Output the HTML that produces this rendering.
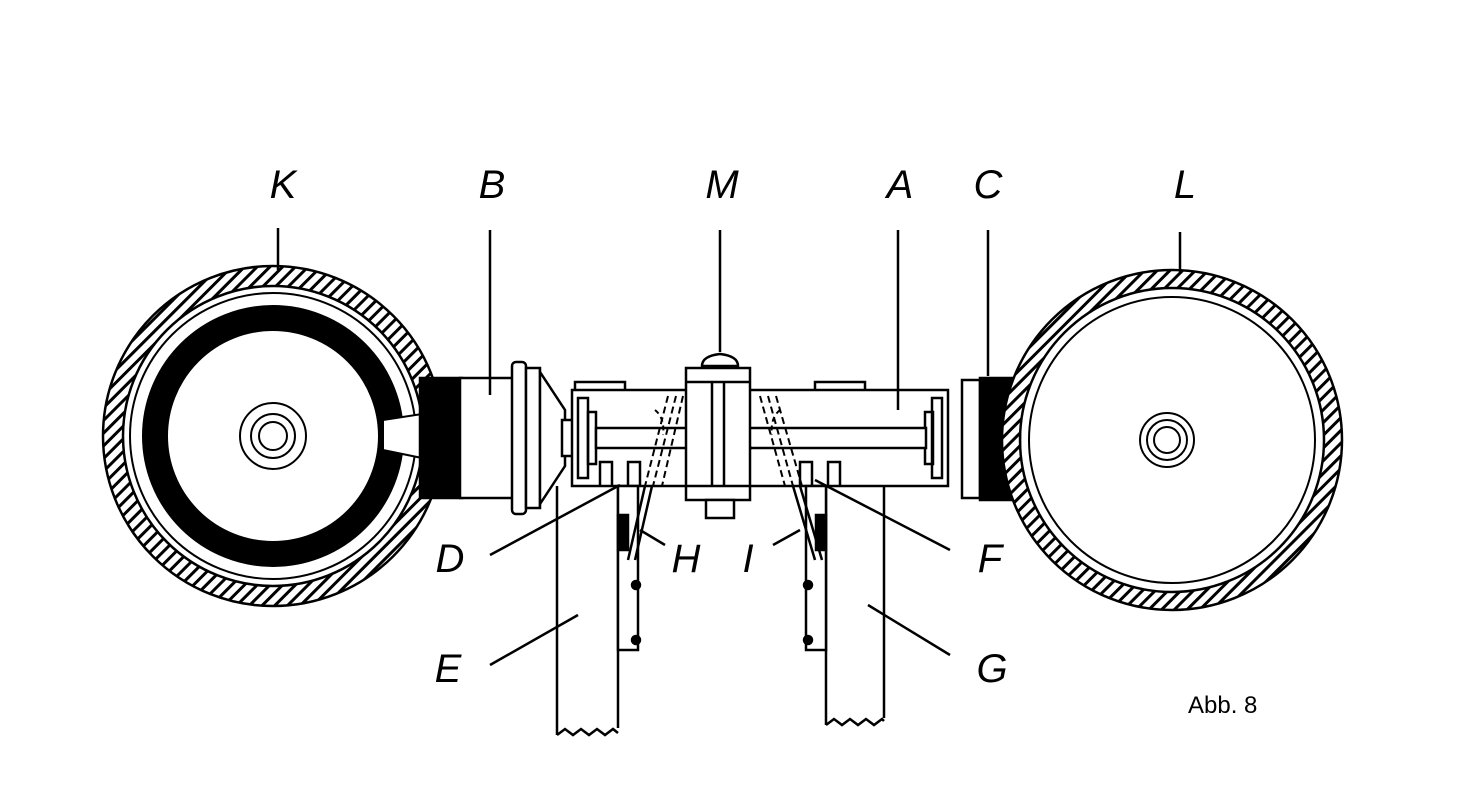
<!DOCTYPE html>
<html><head><style>body{margin:0;background:#fff}svg{display:block}</style></head><body>
<svg width="1484" height="812" viewBox="0 0 1484 812" xmlns="http://www.w3.org/2000/svg">
<defs>
<pattern id="h" width="9" height="9" patternUnits="userSpaceOnUse" patternTransform="rotate(-45)">
<rect width="9" height="9" fill="#fff"/><rect width="9" height="3" fill="#000"/></pattern>
</defs>
<g stroke="#000" stroke-width="2.5" fill="none">
<circle cx="273" cy="436" r="160" stroke="url(#h)" stroke-width="20"/>
<circle cx="273" cy="436" r="170"/>
<circle cx="273" cy="436" r="150"/>
<circle cx="273" cy="436" r="143" stroke-width="2"/>
<circle cx="273" cy="436" r="118" stroke="#000" stroke-width="26"/>
<circle cx="273" cy="436" r="33" stroke-width="2"/>
<circle cx="273" cy="436" r="22" stroke-width="2"/>
<circle cx="273" cy="436" r="14" stroke-width="2"/>
<polygon points="383,420 422,414 422,458 383,450" fill="#fff" stroke-width="2"/>
<rect x="420" y="378" width="42" height="120" fill="#000"/>
<rect x="460" y="378" width="55" height="120" fill="#fff"/>
<rect x="512" y="362" width="14" height="152" rx="4" fill="#fff"/>
<rect x="526" y="368" width="14" height="140" fill="#fff"/>
<polygon points="540,372 565,410 565,466 540,504" fill="#fff"/>
<rect x="562" y="420" width="12" height="36" fill="#fff"/>
<rect x="575" y="382" width="50" height="10" fill="#fff"/>
<rect x="815" y="382" width="50" height="10" fill="#fff"/>
<rect x="572" y="390" width="376" height="96" fill="#fff"/>
<rect x="578" y="398" width="10" height="80"/>
<rect x="932" y="398" width="10" height="80"/>
<rect x="588" y="412" width="8" height="52"/>
<rect x="925" y="412" width="8" height="52"/>
<rect x="596" y="428" width="330" height="20" fill="#fff"/>
<path d="M600 486V462H612V486M628 486V462H640V486M800 486V462H812V486M828 486V462H840V486"/>
<path d="M688 448H700V480M752 448H740V480" stroke-dasharray="8,5"/>
<path d="M668 396L645 486M676 396L653 486M683 396L662 486M760 396L785 486M768 396L793 486M776 396L802 486" stroke-dasharray="7,4" stroke-width="2"/>
<path d="M655 410q10 8 8 25M780 410q-10 8 -8 25" stroke-dasharray="5,4" stroke-width="2"/>
<rect x="686" y="368" width="64" height="132" fill="#fff"/>
<path d="M686 382H750M686 486H750M712 382V486M724 382V486"/>
<path d="M702 366q0-10 18-12q18 2 18 12z" fill="#fff"/>
<line x1="720" y1="230" x2="720" y2="352"/>
<rect x="706" y="500" width="28" height="18" fill="#fff"/>
<path d="M557 486V735M618 486V728M557 735l8-6 8 6 8-6 8 6 8-6 8 6 8-6 5 4"/>
<path d="M826 486V725M884 486V718M826 725l8-6 8 6 8-6 8 6 8-6 8 6 8-6 2 2"/>
<rect x="618" y="486" width="20" height="164" fill="#fff"/>
<rect x="806" y="486" width="20" height="164" fill="#fff"/>
<rect x="618" y="515" width="10" height="35" fill="#000"/>
<rect x="816" y="515" width="10" height="35" fill="#000"/>
<path d="M645 486L628 560M652 486L635 560M793 486L815 560M800 486L822 560"/>
<circle cx="636" cy="585" r="4" fill="#000"/><circle cx="636" cy="640" r="4" fill="#000"/>
<circle cx="808" cy="585" r="4" fill="#000"/><circle cx="808" cy="640" r="4" fill="#000"/>
<rect x="962" y="380" width="18" height="118" fill="#fff"/>
<path d="M980 378H1020V500H980Z" fill="#000"/>
<circle cx="1172" cy="440" r="161" stroke="url(#h)" stroke-width="18"/>
<circle cx="1172" cy="440" r="170"/>
<circle cx="1172" cy="440" r="152"/>
<circle cx="1172" cy="440" r="143" stroke-width="2"/>
<circle cx="1167" cy="440" r="27" stroke-width="2"/>
<circle cx="1167" cy="440" r="20" stroke-width="2"/>
<circle cx="1167" cy="440" r="13" stroke-width="2"/>
<path d="M278 228V270M490 230V395M898 230V410M988 230V376M1180 232V272"/>
<path d="M490 555L620 485M665 545L640 530M773 545L800 530M950 550L815 480M490 665L578 615M950 655L868 605"/>
</g>
<g font-family="Liberation Sans, sans-serif" font-style="italic" font-size="40" fill="#000" text-anchor="middle">
<text x="283" y="198">K</text><text x="492" y="198">B</text><text x="722" y="198">M</text>
<text x="900" y="198">A</text><text x="988" y="198">C</text><text x="1185" y="198">L</text>
<text x="450" y="572">D</text><text x="686" y="572">H</text><text x="748" y="572">I</text>
<text x="990" y="572">F</text><text x="448" y="682">E</text><text x="992" y="682">G</text>
</g>
<text x="1188" y="713" font-family="Liberation Sans, sans-serif" font-size="24">Abb. 8</text>
</svg>
</body></html>
